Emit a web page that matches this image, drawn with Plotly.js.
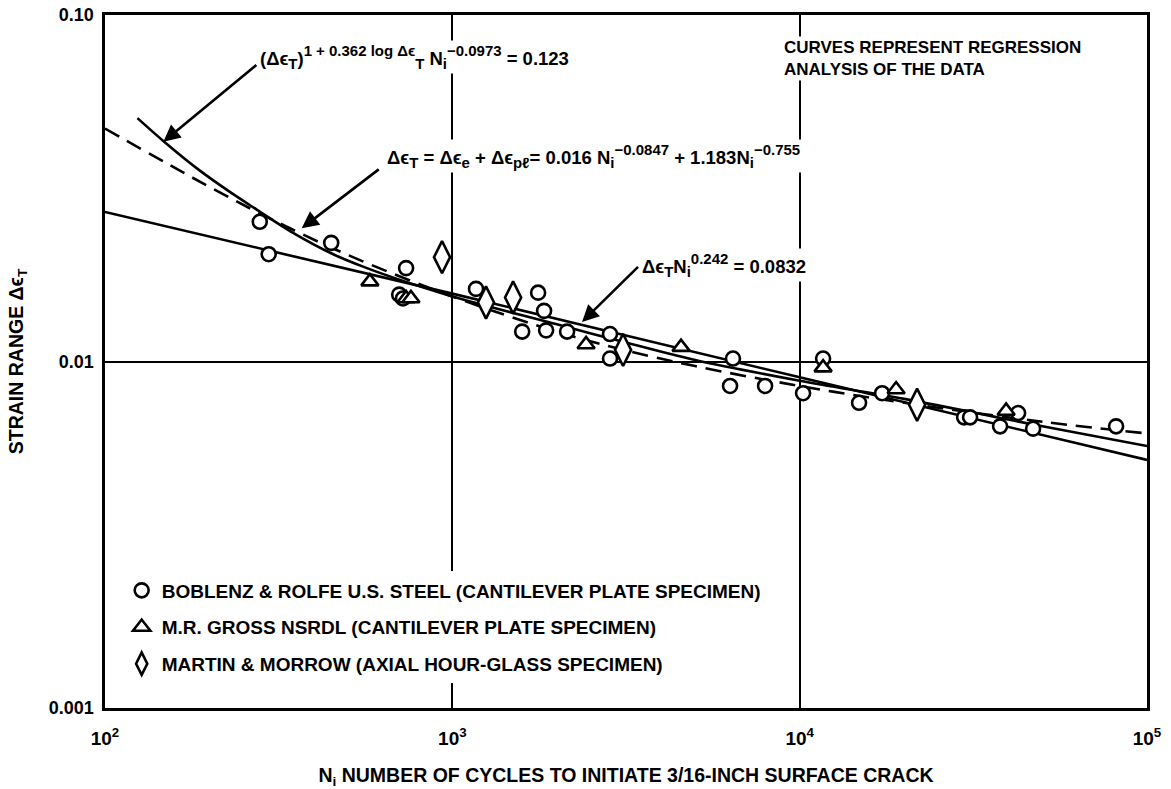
<!DOCTYPE html>
<html><head><meta charset="utf-8">
<script src="https://cdn.plot.ly/plotly-3.0.1.min.js"></script>
<style>html,body{margin:0;padding:0;background:#fff}#chart{width:1171px;height:789px}</style>
</head><body><div id="chart"></div>
<script>
// ---- tick labels ----
const xTickVals = [100, 1000, 10000, 100000];
const xTickText = ['10<sup>2</sup>', '10<sup>3</sup>', '10<sup>4</sup>', '10<sup>5</sup>'];
const yTickVals = [0.001, 0.01, 0.1];
const yTickText = ['0.001', '0.01', '0.10'];

// ---- data: Boblenz & Rolfe (circles) ----
const boblenzN = [279, 296, 448, 736, 703, 721, 1170, 1766, 1837, 1589, 1862, 2140, 2844, 2844, 6426, 6304, 7951, 10228, 11680, 14826, 17274, 29750, 30950, 37760, 42550, 47000, 81470];
const boblenzStrain = [0.0253, 0.0204, 0.0220, 0.0186, 0.0156, 0.0152, 0.0162, 0.0158, 0.0140, 0.0122, 0.0123, 0.0122, 0.0120, 0.0102, 0.0102, 0.0085, 0.0085, 0.0081, 0.0102, 0.0076, 0.0081, 0.0069, 0.0069, 0.0065, 0.0071, 0.0064, 0.0065];

// ---- data: M.R. Gross (triangles) ----
const grossN = [579, 736, 760, 2427, 4555, 11680, 18950, 39300];
const grossStrain = [0.0170, 0.0152, 0.0152, 0.0112, 0.0110, 0.0096, 0.0083, 0.0072];

// ---- data: Martin & Morrow (diamonds) ----
const martinN = [934, 1250, 1496, 3101, 21780];
const martinStrain = [0.0200, 0.0148, 0.0153, 0.0108, 0.0075];

// ---- regression curves ----
const powerN = [100, 1000, 10000, 100000];
const powerStrain = [0.0270, 0.0157, 0.0090, 0.0052];

const elasticPlasticN = [100, 150, 200, 300, 500, 1000, 2000, 3000, 5000, 10000, 20000, 50000, 100000];
const elasticPlasticStrain = [0.0470, 0.0374, 0.0319, 0.0258, 0.0203, 0.0154, 0.0122, 0.0109, 0.0097, 0.0085, 0.0076, 0.0067, 0.0062];

const logCurveN = [124, 148, 188, 234, 274, 341, 454, 568, 707, 1000, 2000, 3000, 5000, 10000, 20000, 50000, 100000];
const logCurveStrain = [0.0504, 0.0431, 0.0355, 0.0304, 0.0274, 0.0238, 0.0204, 0.0186, 0.0172, 0.0154, 0.0128, 0.0115, 0.0101, 0.0088, 0.0078, 0.0065, 0.0057];

// ---- legend names ----
const seriesNames = [
  'BOBLENZ & ROLFE U.S. STEEL (CANTILEVER PLATE SPECIMEN)',
  'M.R. GROSS NSRDL (CANTILEVER PLATE SPECIMEN)',
  'MARTIN & MORROW (AXIAL HOUR-GLASS SPECIMEN)'
];

const FONT = 'Liberation Sans, Arial, Helvetica, sans-serif';
const bfont = (s) => ({family: FONT, size: s, color: '#000', weight: 'bold'});
const mn = (t) => '<span style="font-size:18.5px">' + t + '</span>';

const traces = [
  {x: powerN, y: powerStrain, mode: 'lines', line: {color: '#000', width: 2.6}, showlegend: false, hoverinfo: 'skip'},
  {x: elasticPlasticN, y: elasticPlasticStrain, mode: 'lines', line: {color: '#000', width: 2.6, dash: '16px,9px', shape: 'spline'}, showlegend: false, hoverinfo: 'skip'},
  {x: logCurveN, y: logCurveStrain, mode: 'lines', line: {color: '#000', width: 2.6, shape: 'spline'}, showlegend: false, hoverinfo: 'skip'},
  {x: boblenzN, y: boblenzStrain, mode: 'markers', name: seriesNames[0], legendgroup: 'a',
   marker: {symbol: 'circle', size: 14, color: '#fff', line: {color: '#000', width: 2.6}}},
  {x: grossN, y: grossStrain, mode: 'markers', name: seriesNames[1], legendgroup: 'b',
   marker: {symbol: 'triangle-up', size: 15, color: '#fff', line: {color: '#000', width: 2.6}}},
  {x: martinN, y: martinStrain, mode: 'markers', name: seriesNames[2], legendgroup: 'c',
   marker: {symbol: 'diamond-tall', size: 23, color: '#fff', line: {color: '#000', width: 2.6}}}
];

const arrow = (xl, yl, ax, ay) => ({x: xl, y: yl, xref: 'x', yref: 'y', text: ' ', showarrow: true,
  arrowhead: 2, arrowsize: 1.3, arrowwidth: 2.6, arrowcolor: '#000', ax: ax, ay: ay, standoff: 0});

const annotations = [
  {xref: 'paper', yref: 'paper', x: 0.1468, y: 0.9394, xanchor: 'left', yanchor: 'middle', showarrow: false, bgcolor: '#fff',
   text: mn('(Δϵ') + '<sub>T</sub>' + mn(')') + '<sup>1 + 0.362 log Δϵ</sup><sub>T</sub>' + mn(' N') + '<sub>i</sub><sup>−0.0973</sup>' + mn(' = 0.123'), font: bfont(21.4)},
  {xref: 'paper', yref: 'paper', x: 0.2687, y: 0.7965, xanchor: 'left', yanchor: 'middle', showarrow: false, bgcolor: '#fff',
   text: mn('Δϵ') + '<sub>T</sub>' + mn(' = Δϵ') + '<sub>e</sub>' + mn(' + Δϵ') + '<sub>pℓ</sub>' + mn('= 0.016 N') + '<sub>i</sub><sup>−0.0847</sup>' + mn(' + 1.183N') + '<sub>i</sub><sup>−0.755</sup>', font: bfont(21.4)},
  {xref: 'paper', yref: 'paper', x: 0.5134, y: 0.6392, xanchor: 'left', yanchor: 'middle', showarrow: false, bgcolor: '#fff',
   text: mn('Δϵ') + '<sub>T</sub>' + mn('N') + '<sub>i</sub><sup>0.242</sup>' + mn(' = 0.0832'), font: bfont(21.4)},
  {xref: 'paper', yref: 'paper', x: 0.6497, y: 0.9372, xanchor: 'left', yanchor: 'middle', showarrow: false, bgcolor: '#fff', align: 'left',
   text: 'CURVES REPRESENT REGRESSION<br>ANALYSIS OF THE DATA', font: bfont(17)},
  arrow(2.168, -1.3657, 97, -80),
  arrow(2.5664, -1.6156, 81, -62),
  arrow(3.3734, -1.886, 60, -59)
];

const layout = {
  width: 1171, height: 789,
  margin: {l: 105, r: 24, t: 15, b: 81, pad: 0},
  paper_bgcolor: '#fff', plot_bgcolor: '#fff',
  font: bfont(19),
  showlegend: true,
  legend: {x: 0.016, y: 0.197, xanchor: 'left', yanchor: 'top', bgcolor: '#fff', borderwidth: 0,
    font: bfont(19), tracegroupgap: 9, traceorder: 'grouped', itemwidth: 30},
  xaxis: {type: 'log', range: [2, 5], tickvals: xTickVals, ticktext: xTickText, ticks: '',
    showgrid: true, gridcolor: '#000', gridwidth: 2, zeroline: false,
    showline: true, linecolor: '#000', linewidth: 2.6, mirror: true,
    tickfont: bfont(19), ticklabelstandoff: 12,
    title: {text: 'N<sub>i</sub> NUMBER OF CYCLES TO INITIATE 3/16-INCH SURFACE CRACK', font: bfont(19.5), standoff: 20}},
  yaxis: {type: 'log', range: [-3, -1], tickvals: yTickVals, ticktext: yTickText, ticks: '',
    showgrid: true, gridcolor: '#000', gridwidth: 2, zeroline: false,
    showline: true, linecolor: '#000', linewidth: 2.6, mirror: true,
    tickfont: bfont(18), ticklabelstandoff: 5,
    title: {text: 'STRAIN RANGE Δϵ<sub>T</sub>', font: bfont(19.5), standoff: 20}},
  annotations: annotations
};

Plotly.newPlot('chart', traces, layout, {displayModeBar: false, staticPlot: true});
</script>
</body></html>
